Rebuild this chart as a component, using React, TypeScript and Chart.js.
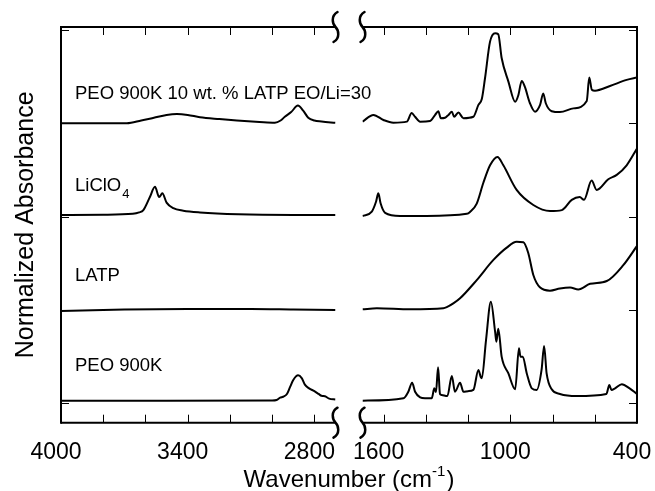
import React, { useEffect, useRef } from "react";
import { Chart, registerables } from "chart.js";
Chart.register(...registerables);

// ---------- data (wavenumber in cm-1, normalized absorbance with stacking offset) ----------
// PEO 900K 10 wt.% LATP EO/Li=30
const compLeftWn = [4000, 3820, 3688, 3620, 3560, 3500, 3451, 3400, 3342, 3250, 3167, 3060, 2987, 2960, 2940, 2910, 2878, 2853, 2829, 2800, 2766, 2700];
const compLeftAbs = [3.0, 3.0, 3.0, 3.03, 3.06, 3.09, 3.1, 3.09, 3.065, 3.045, 3.03, 3.015, 3.007, 3.03, 3.07, 3.12, 3.19, 3.136, 3.06, 3.03, 3.02, 3.005];
const compRightWn = [1700, 1648, 1601, 1554, 1490, 1467, 1451, 1427, 1380, 1356, 1341, 1329, 1309, 1293, 1277, 1266, 1246, 1222, 1175, 1151, 1135, 1120, 1096, 1072, 1057, 1041, 1009, 977, 962, 946, 931, 907, 883, 859, 844, 832, 804, 765, 701, 638, 626, 614, 599, 528, 449, 400];
const compRightAbs = [3.018, 3.09, 3.036, 3.007, 3.018, 3.11, 3.07, 3.018, 3.025, 3.09, 3.13, 3.055, 3.06, 3.09, 3.125, 3.07, 3.115, 3.055, 3.07, 3.197, 3.26, 3.48, 3.875, 3.966, 3.955, 3.7, 3.447, 3.23, 3.3, 3.454, 3.39, 3.215, 3.125, 3.197, 3.32, 3.215, 3.13, 3.12, 3.16, 3.24, 3.49, 3.36, 3.35, 3.4, 3.465, 3.49];

// LiClO4
const saltLeftWn = [4000, 3800, 3660, 3630, 3610, 3579, 3555, 3535, 3520, 3500, 3468, 3421, 3342, 3161, 2900, 2700];
const saltLeftAbs = [2.018, 2.02, 2.03, 2.045, 2.07, 2.21, 2.32, 2.21, 2.25, 2.15, 2.09, 2.064, 2.045, 2.025, 2.018, 2.018];
const saltRightWn = [1700, 1656, 1636, 1625, 1614, 1593, 1522, 1396, 1206, 1191, 1159, 1128, 1096, 1061, 1033, 970, 891, 812, 756, 709, 671, 651, 615, 591, 536, 496, 449, 400];
const saltRightAbs = [2.007, 2.054, 2.16, 2.25, 2.14, 2.04, 2.007, 2.007, 2.03, 2.05, 2.14, 2.36, 2.55, 2.64, 2.55, 2.286, 2.125, 2.06, 2.07, 2.18, 2.21, 2.18, 2.386, 2.286, 2.4, 2.447, 2.55, 2.73];

// LATP
const latpLeftWn = [4000, 3700, 3400, 3100, 2900, 2700];
const latpLeftAbs = [0.99, 1.005, 1.01, 1.01, 1.005, 1.0];
const latpRightWn = [1700, 1632, 1475, 1317, 1301, 1270, 1238, 1159, 1080, 1017, 970, 938, 915, 891, 860, 812, 765, 717, 678, 622, 543, 465, 400];
const latpRightAbs = [1.007, 1.018, 1.007, 1.018, 1.03, 1.07, 1.125, 1.32, 1.536, 1.668, 1.73, 1.725, 1.61, 1.375, 1.243, 1.207, 1.23, 1.24, 1.22, 1.28, 1.31, 1.48, 1.686];

// PEO 900K
const peoLeftWn = [4000, 3500, 3000, 2979, 2962, 2948, 2930, 2916, 2900, 2877, 2860, 2845, 2825, 2800, 2780, 2766, 2750, 2730, 2700];
const peoLeftAbs = [0.028, 0.028, 0.03, 0.035, 0.06, 0.07, 0.1, 0.17, 0.25, 0.3, 0.27, 0.2, 0.16, 0.13, 0.1, 0.08, 0.075, 0.05, 0.04];
const peoRightWn = [1700, 1506, 1483, 1465, 1451, 1427, 1404, 1372, 1360, 1352, 1342, 1333, 1325, 1298, 1277, 1262, 1238, 1222, 1200, 1175, 1151, 1140, 1135, 1115, 1092, 1072, 1066, 1057, 1041, 1009, 977, 959, 952, 941, 922, 898, 875, 852, 840, 828, 804, 765, 686, 545, 531, 521, 504, 472, 435, 400];
const peoRightAbs = [0.028, 0.054, 0.124, 0.22, 0.124, 0.064, 0.054, 0.054, 0.16, 0.12, 0.386, 0.1, 0.089, 0.078, 0.293, 0.124, 0.22, 0.124, 0.13, 0.143, 0.357, 0.28, 0.268, 0.678, 1.089, 0.767, 0.66, 0.8, 0.5, 0.32, 0.15, 0.59, 0.5, 0.5, 0.32, 0.16, 0.143, 0.357, 0.614, 0.32, 0.15, 0.1, 0.078, 0.1, 0.196, 0.143, 0.16, 0.204, 0.16, 0.1];

// labels
const spectrumNames = ["PEO 900K 10 wt. % LATP EO/Li=30", "LiClO", "LATP", "PEO 900K"];
const spectrumSubscripts = ["", "4", "", ""];
const labelBaselineValues = [3.26, 2.28, 1.31, 0.35];

// axes
const leftRange = [2700, 4000];
const rightRange = [400, 1700];
const leftTickLabels = [4000, 3400, 2800];
const rightTickLabels = [1600, 1000, 400];
const leftMinorTicks = [3800, 3600, 3400, 3200, 3000, 2800];
const rightMinorTicks = [1600, 1400, 1200, 1000, 800, 600];
const yTicks = [0, 1, 2, 3, 4];
const yRange = [-0.208, 4.032];
const xTitle = "Wavenumber (cm";
const xTitleSup = "-1";
const xTitleEnd = ")";
const yTitle = "Normalized Absorbance";

const FONT = "'Liberation Sans', Arial, Helvetica, sans-serif";

function squiggle(ctx: CanvasRenderingContext2D, x: number, y: number) {
  ctx.beginPath();
  ctx.moveTo(x + 2, y - 15);
  ctx.bezierCurveTo(x - 5, y - 11, x - 3, y - 3, x, y);
  ctx.bezierCurveTo(x + 3, y + 3, x + 5, y + 11, x - 2, y + 15);
  ctx.stroke();
}

const framePlugin = {
  id: "frame",
  afterLayout(chart: any) {
    const a = chart.chartArea;
    const xL = chart.scales.xL;
    const xR = chart.scales.xR;
    const gap = 27;
    const w = (a.right - a.left - gap) / 2;
    xL.left = a.left;
    xL.right = a.left + w;
    xL.width = w;
    xR.left = a.right - w;
    xR.right = a.right;
    xR.width = w;
    xL.configure();
    xR.configure();
  },
  afterDraw(chart: any) {
    const ctx: CanvasRenderingContext2D = chart.ctx;
    const a = chart.chartArea;
    const xL = chart.scales.xL;
    const xR = chart.scales.xR;
    const y = chart.scales.y;
    const line = (x1: number, y1: number, x2: number, y2: number) => {
      ctx.beginPath();
      ctx.moveTo(x1, y1);
      ctx.lineTo(x2, y2);
      ctx.stroke();
    };
    ctx.save();
    ctx.strokeStyle = "#000";
    ctx.lineWidth = 2;
    ctx.lineCap = "square";
    line(a.left, a.top, a.left, a.bottom);
    line(a.right, a.top, a.right, a.bottom);
    ctx.lineCap = "butt";
    for (const s of [xL, xR]) {
      line(s.left, a.top, s.right, a.top);
      line(s.left, a.bottom, s.right, a.bottom);
    }
    // inward ticks
    ctx.lineWidth = 1;
    const tl = 8;
    const xt = (s: any, vals: number[]) => {
      for (const v of vals) {
        const px = Math.round(s.getPixelForValue(v)) + 0.5;
        line(px, a.bottom, px, a.bottom - tl);
        line(px, a.top, px, a.top + tl);
      }
    };
    xt(xL, leftMinorTicks);
    xt(xR, rightMinorTicks);
    for (const v of yTicks) {
      const py = Math.round(y.getPixelForValue(v)) + 0.5;
      line(a.left, py, a.left + tl, py);
      line(a.right, py, a.right - tl, py);
    }
    // axis breaks
    ctx.lineWidth = 2.5;
    ctx.lineCap = "round";
    for (const yy of [a.top, a.bottom]) {
      squiggle(ctx, xL.right, yy);
      squiggle(ctx, xR.left, yy);
    }
    // spectrum labels
    ctx.fillStyle = "#000";
    ctx.textBaseline = "alphabetic";
    ctx.textAlign = "left";
    spectrumNames.forEach((name, i) => {
      const px = a.left + 14;
      const py = y.getPixelForValue(labelBaselineValues[i]);
      ctx.font = `18.5px ${FONT}`;
      ctx.fillText(name, px, py);
      if (spectrumSubscripts[i]) {
        const w = ctx.measureText(name).width;
        ctx.font = `13px ${FONT}`;
        ctx.fillText(spectrumSubscripts[i], px + w + 1, py + 7);
      }
    });
    // x title
    ctx.font = `24px ${FONT}`;
    const w1 = ctx.measureText(xTitle).width;
    const w3 = ctx.measureText(xTitleEnd).width;
    ctx.font = `15px ${FONT}`;
    const w2 = ctx.measureText(xTitleSup).width;
    const total = w1 + w2 + w3 + 1;
    const cx = (a.left + a.right) / 2;
    let sx = cx - total / 2;
    const by = 487;
    ctx.font = `24px ${FONT}`;
    ctx.fillText(xTitle, sx, by);
    sx += w1;
    ctx.font = `15px ${FONT}`;
    ctx.fillText(xTitleSup, sx, by - 11);
    sx += w2 + 1;
    ctx.font = `24px ${FONT}`;
    ctx.fillText(xTitleEnd, sx, by);
    // y title
    ctx.save();
    ctx.translate(33, (a.top + a.bottom) / 2);
    ctx.rotate(-Math.PI / 2);
    ctx.textAlign = "center";
    ctx.font = `25px ${FONT}`;
    ctx.fillText(yTitle, 0, 0);
    ctx.restore();
    ctx.restore();
  },
};

function mk(wn: number[], ab: number[], axis: string) {
  return {
    data: wn.map((w, i) => ({ x: w, y: ab[i] })),
    xAxisID: axis,
    yAxisID: "y",
    borderColor: "#000",
    backgroundColor: "#000",
    borderWidth: 2,
    pointRadius: 0,
    fill: false,
    cubicInterpolationMode: "monotone",
  };
}

export default function App() {
  const ref = useRef<HTMLCanvasElement>(null);
  useEffect(() => {
    const canvas = ref.current!;
    const xScale = (range: number[], labels: number[]) => ({
      type: "linear",
      position: "bottom",
      stack: "x",
      stackWeight: 1,
      reverse: true,
      min: range[0],
      max: range[1],
      grid: { display: false, drawTicks: false },
      border: { display: false },
      afterBuildTicks: (s: any) => {
        s.ticks = labels.map((v) => ({ value: v }));
      },
      afterFit: (s: any) => {
        s.height = 68.3;
        s.paddingLeft = 0;
        s.paddingRight = 0;
      },
      ticks: {
        autoSkip: false,
        maxRotation: 0,
        padding: 16,
        labelOffset: -5,
        color: "#000",
        font: { size: 23, family: FONT },
        callback: (v: any) => String(v),
      },
    });
    const chart = new Chart(canvas, {
      type: "line",
      data: {
        datasets: [
          mk(compLeftWn, compLeftAbs, "xL"),
          mk(compRightWn, compRightAbs, "xR"),
          mk(saltLeftWn, saltLeftAbs, "xL"),
          mk(saltRightWn, saltRightAbs, "xR"),
          mk(latpLeftWn, latpLeftAbs, "xL"),
          mk(latpRightWn, latpRightAbs, "xR"),
          mk(peoLeftWn, peoLeftAbs, "xL"),
          mk(peoRightWn, peoRightAbs, "xR"),
        ] as any,
      },
      options: {
        responsive: false,
        animation: false,
        layout: { padding: { top: 27, right: 18, left: 0, bottom: 0 } },
        plugins: { legend: { display: false }, tooltip: { enabled: false } },
        scales: {
          xL: xScale(leftRange, leftTickLabels),
          xR: xScale(rightRange, rightTickLabels),
          y: {
            type: "linear",
            position: "left",
            min: yRange[0],
            max: yRange[1],
            grid: { display: false, drawTicks: false },
            border: { display: false },
            ticks: { display: false },
            afterFit: (s: any) => {
              s.width = 61;
              s.paddingTop = 0;
              s.paddingBottom = 0;
            },
          },
        } as any,
      },
      plugins: [framePlugin as any],
    });
    return () => chart.destroy();
  }, []);
  return (
    <div style={{ position: "absolute", left: 0, top: 0, width: 655, height: 491, background: "#fff" }}>
      <canvas ref={ref} width={655} height={491} style={{ display: "block" }} />
    </div>
  );
}
